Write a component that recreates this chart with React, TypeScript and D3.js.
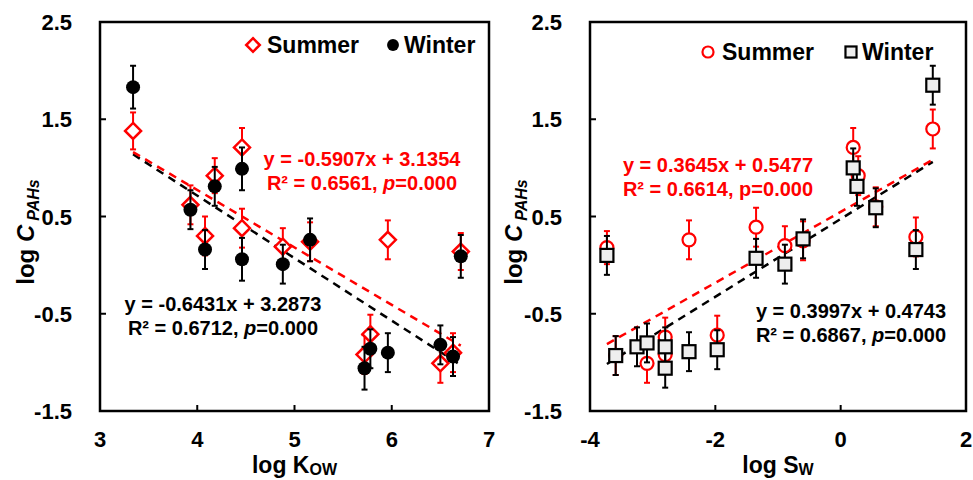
import React, { useRef, useEffect } from "react";
import * as d3 from "d3";

// log Kow panel
const kowSummerX = [3.34, 3.93, 4.08, 4.18, 4.46, 4.46, 4.88, 5.16, 5.96, 6.71, 5.78, 5.72, 6.50, 6.63];
const kowSummerY = [1.38, 0.62, 0.30, 0.92, 1.21, 0.38, 0.19, 0.24, 0.26, 0.14, -0.71, -0.92, -1.01, -0.90];
const kowSummerErr = [0.19, 0.2, 0.2, 0.18, 0.2, 0.2, 0.19, 0.2, 0.2, 0.19, 0.2, 0.2, 0.2, 0.2];
const kowWinterX = [3.34, 3.93, 4.08, 4.18, 4.46, 4.46, 4.88, 5.16, 6.71, 5.72, 5.78, 5.96, 6.50, 6.63];
const kowWinterY = [1.83, 0.57, 0.16, 0.81, 0.99, 0.06, 0.01, 0.26, 0.09, -1.06, -0.86, -0.90, -0.82, -0.94];
const kowWinterErr = [0.22, 0.2, 0.2, 0.2, 0.22, 0.22, 0.2, 0.22, 0.22, 0.22, 0.2, 0.2, 0.2, 0.2];

// log Sw panel
const swSummerX = [-3.73, -2.42, -1.35, 1.47, 0.20, 0.28, 0.56, 1.20, -0.60, -0.89, -3.09, -2.80, -2.80, -1.97, -3.59];
const swSummerY = [0.18, 0.26, 0.39, 1.40, 1.21, 0.92, 0.60, 0.29, 0.25, 0.20, -1.01, -0.74, -0.92, -0.72, -0.93];
const swSummerErr = [0.17, 0.2, 0.2, 0.2, 0.2, 0.2, 0.2, 0.2, 0.2, 0.2, 0.2, 0.2, 0.2, 0.2, 0.2];
const swWinterX = [-3.73, -1.35, 1.47, 0.20, 0.26, 0.56, 1.20, -0.60, -0.89, -3.59, -3.25, -3.09, -2.80, -2.80, -2.42, -1.97];
const swWinterY = [0.10, 0.07, 1.85, 1.00, 0.81, 0.59, 0.16, 0.27, 0.01, -0.93, -0.84, -0.80, -0.84, -1.06, -0.89, -0.87];
const swWinterErr = [0.2, 0.2, 0.2, 0.2, 0.2, 0.2, 0.2, 0.2, 0.2, 0.2, 0.2, 0.2, 0.2, 0.2, 0.2, 0.2];

const yTicks = [-1.5, -0.5, 0.5, 1.5, 2.5];
const yTickLabels = ["-1.5", "-0.5", "0.5", "1.5", "2.5"];
const kowTicks = [3, 4, 5, 6, 7];
const kowTickLabels = ["3", "4", "5", "6", "7"];
const swTicks = [-4, -2, 0, 2];
const swTickLabels = ["-4", "-2", "0", "2"];

// trendlines: [slope, intercept]
const kowSummerFit = [-0.5907, 3.1354];
const kowWinterFit = [-0.6431, 3.2873];
const swSummerFit = [0.3645, 0.5477];
const swWinterFit = [0.3997, 0.4743];

const FONT = "Arial, 'Liberation Sans', sans-serif";
const RED = "#ff0000";

function App() {
  const svgRef = useRef(null);

  useEffect(() => {
    const svg = d3.select(svgRef.current);
    svg.selectAll("*").remove();

    const drawPanel = (opt) => {
      const x = d3.scaleLinear().domain(opt.xDomain).range(opt.xRange);
      const y = d3.scaleLinear().domain([-1.5, 2.5]).range([411, 22]);
      const g = svg.append("g");

      // frame
      g.append("rect")
        .attr("x", opt.xRange[0]).attr("y", 22)
        .attr("width", opt.xRange[1] - opt.xRange[0]).attr("height", 389)
        .attr("fill", "none").attr("stroke", "#000").attr("stroke-width", 2.5);

      // ticks, inward
      g.selectAll(".yt").data(yTicks.slice(1, -1)).enter().append("line")
        .attr("x1", opt.xRange[0]).attr("x2", opt.xRange[0] + 6)
        .attr("y1", d => y(d)).attr("y2", d => y(d))
        .attr("stroke", "#000").attr("stroke-width", 2);
      g.selectAll(".xt").data(opt.ticks.slice(1, -1)).enter().append("line")
        .attr("x1", d => x(d)).attr("x2", d => x(d))
        .attr("y1", 411).attr("y2", 405)
        .attr("stroke", "#000").attr("stroke-width", 2);

      // tick labels
      g.selectAll(".yl").data(yTicks).enter().append("text")
        .attr("x", opt.xRange[0] - 28).attr("y", d => y(d) + 8)
        .attr("text-anchor", "end")
        .style("font-family", FONT).style("font-weight", 700).style("font-size", "22px")
        .text((d, i) => yTickLabels[i]);
      g.selectAll(".xl").data(opt.ticks).enter().append("text")
        .attr("x", d => x(d)).attr("y", 447)
        .attr("text-anchor", "middle")
        .style("font-family", FONT).style("font-weight", 700).style("font-size", "22px")
        .text((d, i) => opt.tickLabels[i]);

      // axis titles
      const xt = g.append("text")
        .attr("x", (opt.xRange[0] + opt.xRange[1]) / 2).attr("y", 473)
        .attr("text-anchor", "middle")
        .style("font-family", FONT).style("font-weight", 700).style("font-size", "23px");
      xt.append("tspan").text(opt.xTitle);
      xt.append("tspan").attr("dy", 2).style("font-size", "16px").text(opt.xSub);

      const yt = g.append("text")
        .attr("transform", `translate(${opt.yTitleX},232) rotate(-90)`)
        .attr("text-anchor", "middle")
        .style("font-family", FONT).style("font-weight", 700).style("font-size", "24px");
      yt.append("tspan").text("log ");
      yt.append("tspan").style("font-style", "italic").text("C");
      yt.append("tspan").attr("dx", 4).attr("dy", 5).style("font-style", "italic").style("font-size", "16px").text("PAHs");

      // trendlines
      const fitLine = (fit, xs, color) => {
        const x0 = d3.min(xs), x1 = d3.max(xs);
        g.append("line")
          .attr("x1", x(x0)).attr("y1", y(fit[0] * x0 + fit[1]))
          .attr("x2", x(x1)).attr("y2", y(fit[0] * x1 + fit[1]))
          .attr("stroke", color).attr("stroke-width", 2.5)
          .attr("stroke-dasharray", "8,6");
      };
      fitLine(opt.winterFit, opt.winter.x, "#000");
      fitLine(opt.summerFit, opt.summer.x, RED);

      const series = (s, color, marker) => {
        const pts = s.x.map((v, i) => ({ x: v, y: s.y[i], e: s.e[i] }));
        const bars = g.append("g");
        bars.selectAll("line.v").data(pts).enter().append("line")
          .attr("x1", d => x(d.x)).attr("x2", d => x(d.x))
          .attr("y1", d => y(d.y + d.e)).attr("y2", d => y(d.y - d.e))
          .attr("stroke", color).attr("stroke-width", 2);
        [1, -1].forEach(sg => {
          bars.selectAll("line.c" + sg).data(pts).enter().append("line")
            .attr("x1", d => x(d.x) - 3).attr("x2", d => x(d.x) + 3)
            .attr("y1", d => y(d.y + sg * d.e)).attr("y2", d => y(d.y + sg * d.e))
            .attr("stroke", color).attr("stroke-width", 2);
        });
        const m = g.append("g");
        pts.forEach(d => marker(m, x(d.x), y(d.y), 1));
      };
      series(opt.summer, RED, opt.summerMarker);
      series(opt.winter, "#000", opt.winterMarker);

      // equations
      const eq = (lines, cx, cy, color, italicP) => {
        lines.forEach((ln, i) => {
          const t = g.append("text")
            .attr("x", cx).attr("y", cy + i * 24 + 7)
            .attr("text-anchor", "middle").attr("fill", color)
            .style("font-family", FONT).style("font-weight", 700).style("font-size", "20px");
          if (ln.includes("p=")) {
            const [a, b] = ln.split("p=");
            t.append("tspan").text(a);
            t.append("tspan").style("font-style", italicP ? "italic" : "normal").text("p");
            t.append("tspan").text("=" + b);
          } else t.text(ln);
        });
      };
      opt.equations.forEach(e => eq(e.lines, e.cx, e.cy, e.color, e.italicP));

      // legend
      opt.summerMarker(g, opt.legend.sx, opt.legend.y, 0.85);
      opt.winterMarker(g, opt.legend.wx, opt.legend.y, 0.85);
      [["Summer", opt.legend.sx + 14], ["Winter", opt.legend.wx + 11]].forEach(([txt, tx]) => {
        g.append("text").attr("x", tx).attr("y", opt.legend.y + 8)
          .style("font-family", FONT).style("font-weight", 700).style("font-size", "23px")
          .text(txt);
      });
    };

    const diamond = (m, cx, cy, k) => {
      const r = 8 * k;
      m.append("path")
        .attr("d", `M${cx},${cy - r}L${cx + r},${cy}L${cx},${cy + r}L${cx - r},${cy}Z`)
        .attr("fill", "#fff").attr("stroke", RED).attr("stroke-width", 2.5);
    };
    const dot = (m, cx, cy, k) => {
      m.append("circle").attr("cx", cx).attr("cy", cy).attr("r", 7 * k).attr("fill", "#000");
    };
    const ring = (m, cx, cy, k) => {
      m.append("circle").attr("cx", cx).attr("cy", cy).attr("r", 6.5 * k)
        .attr("fill", "#fff").attr("stroke", RED).attr("stroke-width", 2.2);
    };
    const square = (m, cx, cy, k) => {
      const s = 13 * k;
      m.append("rect").attr("x", cx - s / 2).attr("y", cy - s / 2).attr("width", s).attr("height", s)
        .attr("fill", "#eeeeee").attr("stroke", "#000").attr("stroke-width", 2.2);
    };

    drawPanel({
      xDomain: [3, 7], xRange: [100, 489], ticks: kowTicks, tickLabels: kowTickLabels,
      xTitle: "log K", xSub: "OW", yTitleX: 34,
      summer: { x: kowSummerX, y: kowSummerY, e: kowSummerErr },
      winter: { x: kowWinterX, y: kowWinterY, e: kowWinterErr },
      summerFit: kowSummerFit, winterFit: kowWinterFit,
      summerMarker: diamond, winterMarker: dot,
      legend: { sx: 253, wx: 393, y: 45 },
      equations: [
        { lines: ["y = -0.5907x + 3.1354", "R² = 0.6561, p=0.000"], cx: 362, cy: 159, color: RED, italicP: true },
        { lines: ["y = -0.6431x + 3.2873", "R² = 0.6712, p=0.000"], cx: 223, cy: 304, color: "#000", italicP: true },
      ],
    });

    drawPanel({
      xDomain: [-4, 2], xRange: [590, 966], ticks: swTicks, tickLabels: swTickLabels,
      xTitle: "log S", xSub: "W", yTitleX: 522,
      summer: { x: swSummerX, y: swSummerY, e: swSummerErr },
      winter: { x: swWinterX, y: swWinterY, e: swWinterErr },
      summerFit: swSummerFit, winterFit: swWinterFit,
      summerMarker: ring, winterMarker: square,
      legend: { sx: 708, wx: 851, y: 52 },
      equations: [
        { lines: ["y = 0.3645x + 0.5477", "R² = 0.6614, p=0.000"], cx: 718, cy: 165, color: RED, italicP: false },
        { lines: ["y = 0.3997x + 0.4743", "R² = 0.6867, p=0.000"], cx: 851, cy: 311, color: "#000", italicP: true },
      ],
    });
  }, []);

  return (
    <svg ref={svgRef} width={973} height={480}
      style={{ position: "absolute", left: 0, top: 0, background: "#fff" }} />
  );
}

export default App;
